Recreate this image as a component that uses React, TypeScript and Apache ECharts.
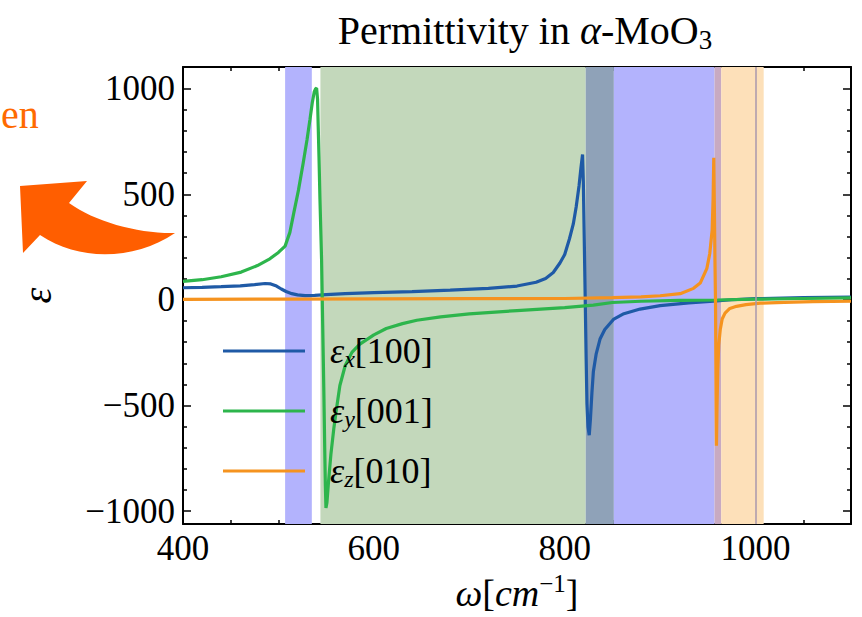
import React, { useEffect, useRef } from 'react';
import * as echarts from 'echarts';

// ---------- data ----------
const xRange = [400, 1100];
const yRange = [-1061, 1103];
const xMajorTicks = [400, 600, 800, 1000];
const xMinorTicks = [450, 500, 550, 650, 700, 750, 850, 900, 950, 1050];
const yMajorTicks = [-1000, -500, 0, 500, 1000];
const yMinorTicks = [-900, -800, -700, -600, -400, -300, -200, -100, 100, 200, 300, 400, 600, 700, 800, 900];

const seriesNames = ['εx[100]', 'εy[001]', 'εz[010]'];

const epsX = [
  [400, 58], [420, 60], [440, 63], [460, 67], [475, 73], [486, 78], [492, 76], [498, 66], [503, 52],
  [508, 40], [514, 30], [520, 24], [528, 21], [538, 22], [550, 25], [570, 30], [600, 35], [640, 40],
  [680, 47], [720, 55], [750, 66], [770, 84], [780, 102], [788, 130], [795, 175], [800, 215], [805, 290],
  [809, 360], [812, 440], [815, 540], [817, 625], [818.7, 689], [819.5, 560], [820.5, 280], [821.5, 0],
  [822.4, -260], [823.3, -490], [824.4, -600], [825.7, -640], [827, -560], [828.5, -440], [830, -340],
  [833, -255], [837, -185], [842, -140], [851, -92], [862, -65], [879, -43], [900, -27], [930, -14],
  [956, -5], [975, 1], [1000, 6], [1050, 11], [1100, 14],
];

const epsY = [
  [400, 88], [420, 96], [440, 110], [461, 132], [478, 163], [490, 192], [500, 225], [507, 255],
  [512, 320], [516, 410], [521, 520], [526, 650], [530, 760], [533, 853], [535.5, 935], [537.5, 985],
  [539, 1000], [540, 1003], [541, 950], [541.7, 822], [542.5, 680], [543.5, 480], [545.2, 194],
  [546.4, -120], [547.6, -433], [548.5, -700], [549.2, -880], [549.8, -985], [550.8, -960], [552.5, -860],
  [555, -730], [558, -610], [561, -510], [564.4, -405], [570, -310], [577, -248], [585, -210], [600, -165],
  [613, -135], [630, -112], [645, -96], [670, -80], [700, -66], [750, -50], [800, -36], [830, -24],
  [850, -12], [880, -6], [920, -2], [960, 0], [1000, 4], [1050, 7], [1100, 10],
];

const epsZ = [
  [400, 3], [500, 4], [600, 5], [700, 6], [800, 7], [850, 11], [880, 15], [900, 20], [921, 30],
  [935, 55], [942, 80], [949, 150], [952, 220], [954.5, 330], [955.5, 480], [956.2, 673], [956.8, 450],
  [957.4, 200], [958, 0], [958.4, -300], [958.7, -520], [959, -690], [959.6, -500], [960.4, -330],
  [961.4, -214], [963, -140], [965, -90], [968, -62], [973, -40], [980, -30], [990, -22], [1005, -15],
  [1030, -11], [1060, -8], [1100, -6],
];

const bands = [
  [507, 535], [544, 822], [822, 851.5], [851.5, 957], [957, 964], [964, 1008.5],
];
const bandLines = [1000];

// ---------- styles ----------
const bandColors = ['#b3b3fd', '#c3d8bb', '#8fa2b8', '#b3b3fd', '#c8aac2', '#fde0b9'];
const lineColors = ['#1f5aa6', '#2db54c', '#f5931f'];
const SERIF = '"Liberation Serif", "DejaVu Serif", serif';

const arrowPath =
  'M20 186 L87 181 L69 203 C95 222 140 234 175 233 C135 260 80 262 40 235 L23 253 Z';
echarts.graphic.registerShape('orangeArrow', echarts.graphic.extendPath(arrowPath, {}) as any);

const legendRich = (name: string) => {
  const sub = name.charAt(1);
  const rest = name.slice(2);
  return `{e|ε}{s|${sub}}{n|${rest}}`;
};

const minus = (v: number) => (v < 0 ? '−' + Math.abs(v) : String(v));

export default function App() {
  const ref = useRef<HTMLDivElement>(null);

  useEffect(() => {
    if (!ref.current) return;
    const chart = echarts.init(ref.current, null, { renderer: 'svg' });

    const tickLine = { color: '#000', width: 1.5 };
    const axisLine = { show: true, onZero: false, lineStyle: { color: '#000', width: 2 } };
    const noLine = { show: false, onZero: false };

    const xBase = { type: 'value', min: xRange[0], max: xRange[1], splitLine: { show: false } };
    const yBase = { type: 'value', min: yRange[0], max: yRange[1], splitLine: { show: false } };

    const option: any = {
      animation: false,
      backgroundColor: '#ffffff',
      title: {
        text: 'Permittivity in {a|α}-MoO{s|3}',
        left: 520,
        top: 2,
        textAlign: 'center',
        textStyle: {
          fontFamily: SERIF,
          fontSize: 40,
          fontWeight: 'normal',
          color: '#000',
          lineHeight: 46,
          rich: {
            a: { fontFamily: SERIF, fontSize: 40, fontStyle: 'italic', color: '#000', lineHeight: 46 },
            s: { fontFamily: SERIF, fontSize: 27, color: '#000', lineHeight: 27, verticalAlign: 'bottom' },
          },
        },
      },
      grid: { left: 183, right: 11, top: 67, bottom: 90, containLabel: false },
      legend: {
        data: seriesNames,
        orient: 'vertical',
        left: 218,
        top: 326,
        icon: 'rect',
        itemWidth: 82,
        itemHeight: 3,
        itemGap: 20,
        formatter: legendRich,
        textStyle: {
          fontFamily: SERIF,
          fontSize: 36,
          color: '#000',
          lineHeight: 40,
          rich: {
            e: { fontFamily: SERIF, fontSize: 36, fontStyle: 'italic', color: '#000', lineHeight: 40, padding: [0, 0, 0, 20] },
            s: { fontFamily: SERIF, fontSize: 24, fontStyle: 'italic', color: '#000', lineHeight: 24, verticalAlign: 'bottom' },
            n: { fontFamily: SERIF, fontSize: 36, color: '#000', lineHeight: 40 },
          },
        },
      },
      xAxis: [
        {
          ...xBase,
          position: 'bottom',
          axisLine,
          axisTick: { show: true, inside: true, length: 8, lineStyle: tickLine, customValues: xMajorTicks },
          axisLabel: {
            show: true,
            customValues: xMajorTicks,
            margin: 7,
            fontFamily: SERIF,
            fontSize: 35,
            color: '#000',
            formatter: (v: number) => String(v),
          },
          name: '{w|ω}{b|[}{c|cm}{p|−1}{b|]}',
          nameLocation: 'middle',
          nameGap: 40,
          nameTextStyle: {
            fontFamily: SERIF,
            fontSize: 38,
            color: '#000',
            rich: {
              w: { fontFamily: SERIF, fontSize: 38, fontStyle: 'italic', color: '#000', lineHeight: 44 },
              b: { fontFamily: SERIF, fontSize: 38, color: '#000', lineHeight: 44 },
              c: { fontFamily: SERIF, fontSize: 38, fontStyle: 'italic', color: '#000', lineHeight: 44 },
              p: { fontFamily: SERIF, fontSize: 25, color: '#000', lineHeight: 25, verticalAlign: 'top' },
            },
          },
        },
        {
          ...xBase,
          position: 'bottom',
          axisLine: noLine,
          axisTick: { show: true, inside: true, length: 4, lineStyle: tickLine, customValues: xMinorTicks },
          axisLabel: { show: false },
        },
        {
          ...xBase,
          position: 'top',
          axisLine,
          axisTick: { show: true, inside: true, length: 8, lineStyle: tickLine, customValues: xMajorTicks },
          axisLabel: { show: false },
        },
        {
          ...xBase,
          position: 'top',
          axisLine: noLine,
          axisTick: { show: true, inside: true, length: 4, lineStyle: tickLine, customValues: xMinorTicks },
          axisLabel: { show: false },
        },
      ],
      yAxis: [
        {
          ...yBase,
          position: 'left',
          axisLine,
          axisTick: { show: true, inside: true, length: 8, lineStyle: tickLine, customValues: yMajorTicks },
          axisLabel: { show: true, customValues: yMajorTicks, margin: 8, fontFamily: SERIF, fontSize: 35, color: '#000', formatter: minus },
          name: '{e|ε}',
          nameLocation: 'middle',
          nameRotate: 90,
          nameGap: 126,
          nameTextStyle: {
            rich: { e: { fontFamily: SERIF, fontSize: 40, fontStyle: 'italic', color: '#000' } },
          },
        },
        {
          ...yBase,
          position: 'left',
          axisLine: noLine,
          axisTick: { show: true, inside: true, length: 4, lineStyle: tickLine, customValues: yMinorTicks },
          axisLabel: { show: false },
        },
        {
          ...yBase,
          position: 'right',
          axisLine,
          axisTick: { show: true, inside: true, length: 8, lineStyle: tickLine, customValues: yMajorTicks },
          axisLabel: { show: false },
        },
        {
          ...yBase,
          position: 'right',
          axisLine: noLine,
          axisTick: { show: true, inside: true, length: 4, lineStyle: tickLine, customValues: yMinorTicks },
          axisLabel: { show: false },
        },
      ],
      series: [
        {
          type: 'line',
          name: 'bands',
          data: [],
          z: 1,
          silent: true,
          markArea: {
            silent: true,
            data: bands.map((b, i) => [
              { xAxis: b[0], itemStyle: { color: bandColors[i], opacity: 1 } },
              { xAxis: b[1] },
            ]),
          },
          markLine: {
            silent: true,
            symbol: 'none',
            label: { show: false },
            lineStyle: { color: '#a898ae', width: 1.5, type: 'solid' },
            data: bandLines.map((v) => ({ xAxis: v })),
          },
        },
        ...[epsX, epsY, epsZ].map((d, i) => ({
          type: 'line',
          name: seriesNames[i],
          data: d,
          z: 3,
          symbol: 'none',
          showSymbol: false,
          smooth: false,
          lineStyle: { color: lineColors[i], width: 3.2 },
          itemStyle: { color: lineColors[i] },
        })),
      ],
      graphic: [
        {
          type: 'text',
          x: 1,
          y: 134,
          style: {
            text: 'en',
            fontFamily: SERIF,
            fontSize: 40,
            fill: '#ff6a00',
            align: 'left',
            verticalAlign: 'bottom',
          },
        },
        {
          type: 'orangeArrow',
          x: 0,
          y: 0,
          style: { fill: '#ff5e00' },
        },
      ],
    };

    chart.setOption(option);
    return () => chart.dispose();
  }, []);

  return (
    <div
      ref={ref}
      style={{ position: 'fixed', left: 0, top: 0, width: 862, height: 617, background: '#fff' }}
    />
  );
}
